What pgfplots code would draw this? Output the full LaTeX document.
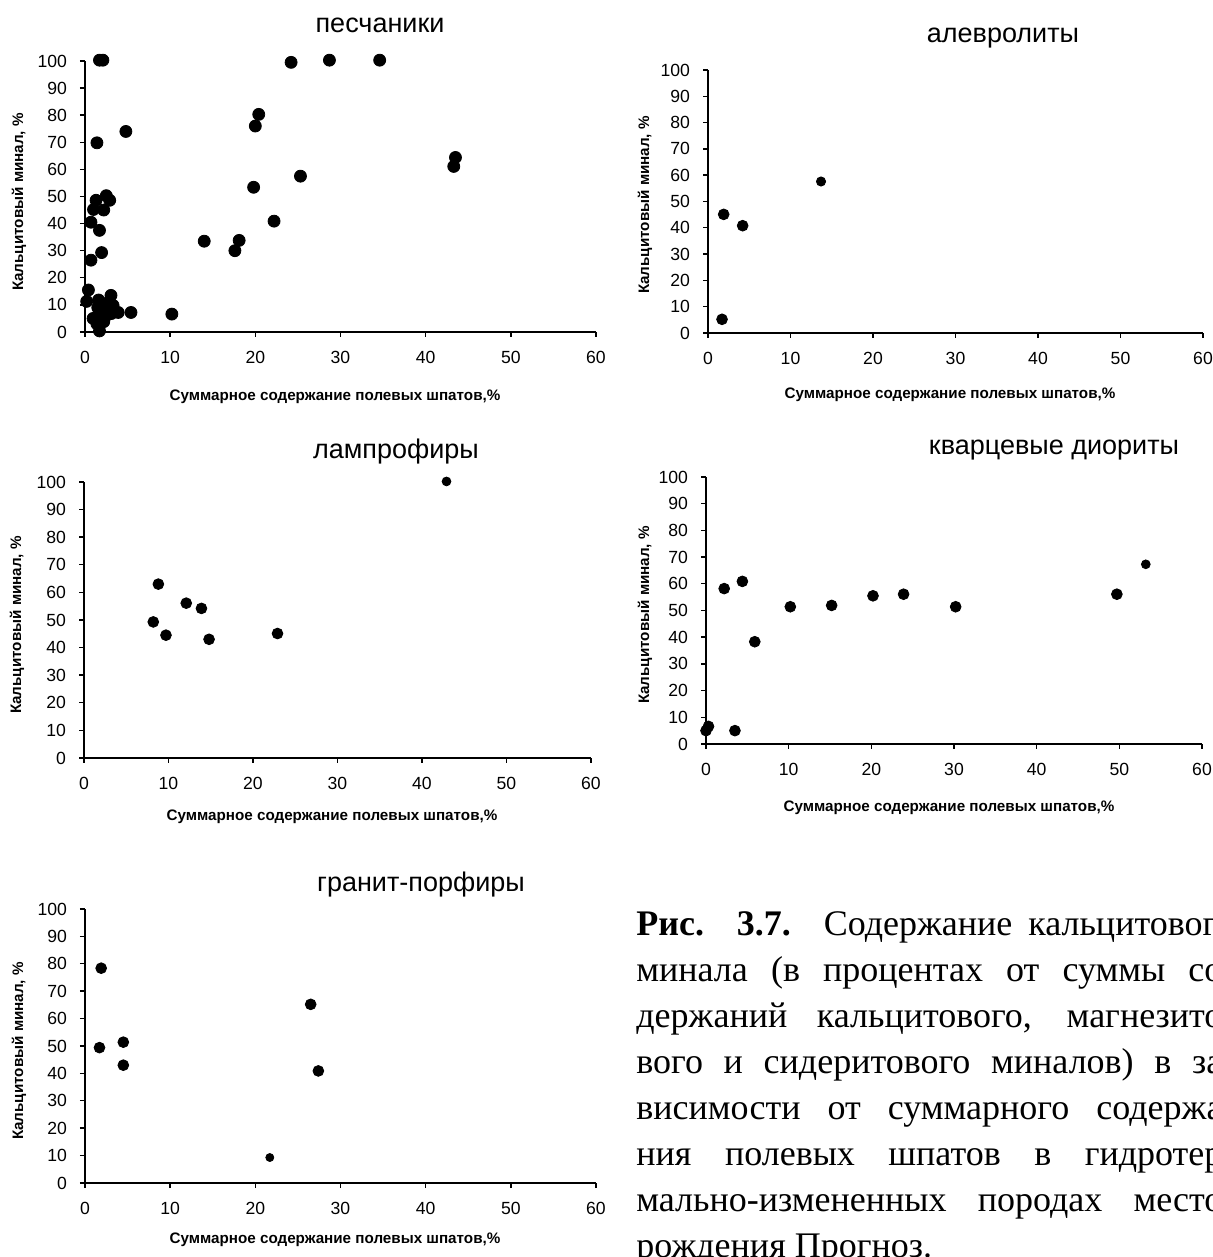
\documentclass[border=0pt]{standalone}
\usepackage{fontspec}
\setmainfont{Liberation Sans}
\newfontfamily\capfont{Liberation Serif}
\usepackage{pgfplots}
\pgfplotsset{compat=1.18}

\pgfplotsset{
  minal/.style={
    scale only axis, anchor=south west,
    axis lines=left, axis line style={-, line width=0.8pt},
    xmin=0, xmax=60, ymin=0, ymax=100,
    xtick={0,10,...,60}, ytick={0,10,...,100},
    tick align=outside, major tick length=2.5pt,
    tick style={line width=0.7pt, black},
    tick label style={font=\fontsize{8.8}{8.8}\selectfont},
    xticklabel style={yshift=-3.5pt},
    yticklabel style={xshift=-3pt},
    /pgf/number format/assume math mode=true,
    clip=false,
  },
  dots/.style={only marks, mark=*, mark size=#1, mark options={draw=black, fill=black}},
  dots/.default=2.7pt,
}
\newcommand{\ttl}{\fontsize{13.5}{13.5}\selectfont}
\newcommand{\lbl}{\bfseries\fontsize{7.6}{7.6}\selectfont}
\newcommand{\capline}[1]{\hbox to 299pt{\spaceskip=.25em plus 1fil\relax #1}}

\begin{document}
\begin{tikzpicture}
\useasboundingbox (0,0) rectangle (606.5pt,628.5pt);
\clip (0,0) rectangle (606.5pt,628.5pt);

% песчаники
\begin{axis}[minal, at={(42.5pt,462.5pt)}, width=255.5pt, height=135.5pt]
\addplot[dots=3pt] coordinates {
 (1.7,100.3) (2.1,100.3) (24.2,99.5) (28.7,100.3) (34.6,100.3)
 (20.4,80.3) (20.0,76.0) (4.8,74.0) (1.4,69.8)
 (43.5,64.4) (43.3,61.1) (25.3,57.5) (19.8,53.4) (22.2,40.9)
 (14.0,33.5) (18.1,33.8) (17.6,30.0) (10.2,6.6) (5.4,7.2)
 (2.5,50.3) (2.9,48.6) (1.3,48.6) (1.0,45.2) (2.2,45.0)
 (0.7,40.5) (1.7,37.5) (1.95,29.3) (0.7,26.5)
 (0.4,15.5) (0.2,11.3) (3.05,13.5) (1.6,11.8) (2.0,10.5)
 (3.3,9.8) (3.9,7.2) (3.1,6.8) (2.6,8.2) (1.8,7.6) (2.35,5.5)
 (0.95,5.0) (1.4,3.0) (1.7,0.4) (2.2,3.8) (1.5,9.0) (2.8,11.0)
};
\end{axis}

% алевролиты
\begin{axis}[minal, at={(354pt,462pt)}, width=247.5pt, height=131.5pt]
\addplot[dots] coordinates {(1.9,45.1) (4.2,40.8) (1.7,5.2)};
\addplot[dots=2.3pt] coordinates {(13.7,57.6)};
\end{axis}

% лампрофиры
\begin{axis}[minal, at={(42pt,249.5pt)}, width=253.5pt, height=138pt]
\addplot[dots] coordinates {
 (8.8,63.0) (12.1,56.1) (13.9,54.2) (8.2,49.3) (9.7,44.5) (14.8,43.0) (22.9,45.1)
};
\addplot[dots=2.2pt] coordinates {(42.9,100.2)};
\end{axis}

% кварцевые диориты
\begin{axis}[minal, at={(353pt,256.5pt)}, width=248pt, height=133.5pt]
\addplot[dots] coordinates {
 (0.0,5.0) (0.3,6.6) (3.5,5.0) (2.2,58.2) (4.4,60.9) (5.9,38.3)
 (10.2,51.4) (15.2,51.9) (20.2,55.5) (23.9,56.1) (30.2,51.4) (49.7,56.1)
};
\addplot[dots=2.2pt] coordinates {(53.2,67.3)};
\end{axis}

% гранит-порфиры
\begin{axis}[minal, at={(42.5pt,37pt)}, width=255.5pt, height=137pt]
\addplot[dots] coordinates {
 (1.9,78.4) (1.7,49.4) (4.5,51.4) (4.5,43.0) (26.5,65.2) (27.4,40.9)
};
\addplot[dots=2pt] coordinates {(21.7,9.3)};
\end{axis}

% titles
\node[font=\ttl] at (190pt,616pt) {песчаники};
\node[font=\ttl] at (501.5pt,609.5pt) {алевролиты};
\node[font=\ttl] at (198pt,402.5pt) {лампрофиры};
\node[font=\ttl] at (527pt,403.5pt) {кварцевые диориты};
\node[font=\ttl] at (210.5pt,186pt) {гранит-порфиры};

% axis labels
\foreach \x/\y in {167.5/430, 475/431, 166/220, 474.5/224.5, 167.5/8.5}
  \node[font=\lbl] at (\x pt,\y pt) {Суммарное содержание полевых шпатов,\%};
\foreach \x/\y in {9.5/527.5, 322.5/526, 8.5/316, 322.5/321, 9.5/103}
  \node[font=\lbl, rotate=90] at (\x pt,\y pt) {Кальцитовый минал, \%};

% caption
\begin{scope}[every node/.style={anchor=base west, inner sep=0pt,
  font=\capfont\fontsize{18}{18}\selectfont}]
\node at (318pt,160.5pt) {\capline{\textbf{Рис. 3.7.} Содержание кальцитового}};
\node at (318pt,137.5pt) {\capline{минала (в процентах от суммы со-}};
\node at (318pt,114.5pt) {\capline{держаний кальцитового, магнезито-}};
\node at (318pt,91.5pt) {\capline{вого и сидеритового миналов) в за-}};
\node at (318pt,68.5pt) {\capline{висимости от суммарного содержа-}};
\node at (318pt,45.5pt) {\capline{ния полевых шпатов в гидротер-}};
\node at (318pt,22.5pt) {\capline{мально-измененных породах место-}};
\node at (318pt,-0.5pt) {рождения Прогноз.};
\end{scope}
\end{tikzpicture}
\end{document}
